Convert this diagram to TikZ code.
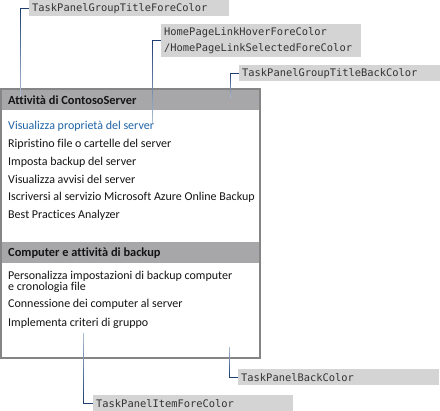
\documentclass[tikz,border=0pt]{standalone}
\usepackage{fontspec}
\setmainfont{Carlito}[Ligatures=NoCommon]
\newfontfamily\monof{DejaVu Sans Mono}
\usetikzlibrary{calc}
\definecolor{panelborder}{HTML}{858585}
\definecolor{headfill}{HTML}{A7A7AA}
\definecolor{labfill}{HTML}{D4D4D4}
\definecolor{labtext}{HTML}{333333}
\definecolor{linkblue}{HTML}{1F64A6}
\definecolor{conndark}{HTML}{1F3F73}
\definecolor{connlight}{HTML}{B4C3D6}
\definecolor{itemtext}{HTML}{141414}
\tikzset{
  lab/.style={fill=labfill, inner sep=0pt, anchor=north west, text=labtext,
    font=\monof\fontsize{10.4}{15.5}\selectfont, align=left},
  item/.style={anchor=west, inner sep=0pt, text=itemtext, font=\fontsize{12}{10}\selectfont, align=left},
  head/.style={item, font=\bfseries\fontsize{12.4}{13}\selectfont},
}
\newcommand{\gradconn}[2]{%
  \draw[conndark, line width=1pt] (#1.west) -- (#1.west -| #2);
  \foreach \i in {0,...,19}{%
    \pgfmathsetmacro{\pa}{\i/20}\pgfmathsetmacro{\pb}{(\i+1)/20}%
    \pgfmathsetmacro{\pc}{100-\i*5}%
    \draw[conndark!\pc!connlight, line width=1pt] ($(#1.west -| #2)!\pa!(#2)$) -- ($(#1.west -| #2)!\pb!(#2)$);
  }%
}
\begin{document}
\begin{tikzpicture}[x=1pt,y=-1pt]
\useasboundingbox (0,0) rectangle (440,411);
% panel
\fill[white] (1,89) rectangle (260,358);
\fill[headfill] (1,89) rectangle (260,110);
\fill[headfill] (1,242) rectangle (260,263);
\draw[panelborder, line width=1.5pt] (1,89) rectangle (260,358);
\node[head] (h1) at (8,100) {Attività di ContosoServer};
\node[item, text=linkblue] (i1) at (8,126) {Visualizza proprietà del server};
\node[item] (i2) at (8,144) {Ripristino file o cartelle del server};
\node[item] (i3) at (8,162) {Imposta backup del server};
\node[item] (i4) at (8,179) {Visualizza avvisi del server};
\node[item] (i5) at (8,197) {Iscriversi al servizio Microsoft Azure Online Backup};
\node[item] (i6) at (8,215) {Best Practices Analyzer};
\node[head] (h2) at (8,253) {Computer e attività di backup};
\node[item] (j1) at (8,282) {Personalizza impostazioni di backup computer\\e cronologia file};
\node[item] (j2) at (8,304) {Connessione dei computer al server};
\node[item] (j3) at (8,323) {Implementa criteri di gruppo};
% labels
\node[lab, minimum width=200pt, minimum height=16pt, text width=194pt, inner xsep=3pt] (l1) at (29,0) {TaskPanelGroupTitleForeColor};
\node[lab, minimum width=200pt, minimum height=33pt, text width=194pt, inner xsep=3pt] (l2) at (161,24) {HomePageLinkHoverForeColor\\/HomePageLinkSelectedForeColor};
\node[lab, minimum width=201pt, minimum height=16pt, text width=195pt, inner xsep=3pt] (l3) at (239,65) {TaskPanelGroupTitleBackColor};
\node[lab, minimum width=201pt, minimum height=16pt, text width=195pt, inner xsep=3pt] (l4) at (238,369) {TaskPanelBackColor};
\node[lab, minimum width=200pt, minimum height=16pt, text width=194pt, inner xsep=3pt] (l5) at (93,395) {TaskPanelItemForeColor};
% connector ends
\coordinate (c1) at (20,97);
\coordinate (c2) at (152,123);
\coordinate (c3) at (230,98);
\coordinate (c4) at (229,347);
\coordinate (c5) at (83,333);
\gradconn{l1}{c1}
\gradconn{l2}{c2}
\gradconn{l3}{c3}
\gradconn{l4}{c4}
\gradconn{l5}{c5}
\end{tikzpicture}
\end{document}
